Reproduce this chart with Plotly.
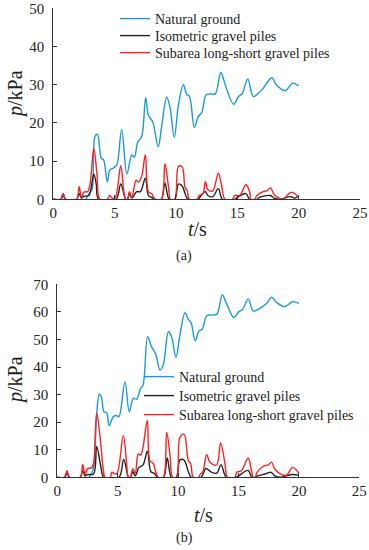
import plotly.graph_objects as go

# ---------------- data: (a) ----------------
series_names = ["Natural ground", "Isometric gravel piles", "Subarea long-short gravel piles"]

ta_nat = [0, 0.6, 0.8, 1.0, 2.6, 2.9, 3.15, 3.4, 3.6, 3.9, 4.1, 4.4, 4.62, 4.9, 5.17, 5.57, 6.0, 6.4, 6.6, 6.9,
          7.2, 7.53, 7.75, 8.1, 8.55, 8.83, 9.24, 9.5, 9.86, 10.2, 10.6, 10.87, 11.1, 11.5, 11.8, 12.1, 12.45,
          12.8, 13.2, 13.65, 13.9, 14.2, 14.7, 15.1, 15.4, 15.85, 16.3, 16.7, 17.1, 17.8, 18.2, 18.9, 19.5, 20.0]
pa_nat = [0, 0, 1.5, 0, 0, 1.5, 2.5, 16.5, 17, 10.8, 10.3, 4.6, 7.7, 8.2, 9, 18.3, 6.6, 11.6, 11, 15.1,
          16.4, 26.6, 22, 20.3, 13.8, 19, 26.7, 24.3, 16.2, 24.7, 30, 27.5, 26.9, 18.8, 21.6, 22.7, 27.3,
          27.6, 27.6, 33.2, 31.2, 28.2, 24.9, 26.9, 27.7, 31.5, 26.9, 27.7, 29, 31.8, 29.9, 28.4, 30.4, 29.7]

ta_iso = [0, 0.6, 0.8, 1.0, 1.9, 2.1, 2.3, 2.5, 2.9, 3.3, 3.5, 3.7, 5.1, 5.5, 5.9, 6.05, 6.2, 6.4, 6.8, 7.1,
          7.5, 7.75, 8.0, 8.3, 8.8, 9.1, 9.45, 9.9, 10.2, 10.5, 10.8, 11.0, 11.8, 12.0, 12.4, 12.6, 13.0,
          13.45, 13.8, 14.8, 15.0, 15.7, 16.0, 16.6, 16.8, 17.7, 18.0, 18.5, 19.3, 19.7, 20.0]
pa_iso = [0, 0, 1.2, 0, 0, 1.5, 0.3, 0.8, 1, 6.6, 4, 0, 0, 4, 0, 0, 1.5, 0.3, 2, 2,
          5.5, 1, 0.5, 0, 0, 4.3, 0, 0, 4, 3.5, 1, 0, 0, 0.8, 2, 1, 0.7,
          2.8, 0, 0, 0.5, 1.5, 0, 0, 0.5, 1, 0.3, 0, 0.7, 0.3, 1]

ta_sub = [0, 0.6, 0.8, 1.0, 1.9, 2.1, 2.3, 2.5, 2.8, 3.0, 3.3, 3.55, 3.8, 4.4, 4.6, 4.8, 5.05, 5.5, 5.75,
          5.9, 6.05, 6.2, 6.4, 6.75, 6.95, 7.2, 7.5, 7.75, 8.0, 8.3, 8.8, 9.1, 9.4, 9.55, 9.9, 10.2, 10.5,
          10.75, 10.9, 11.1, 11.7, 11.9, 12.2, 12.4, 12.6, 13.0, 13.45, 13.7, 14.0, 14.6, 14.8, 15.2, 15.7,
          16.0, 16.1, 16.4, 16.6, 17.1, 17.4, 17.7, 18.0, 18.3, 18.75, 19.2, 19.5, 20.0]
pa_sub = [0, 0, 1.5, 0, 0, 3.3, 0.5, 1.9, 2, 4, 13.4, 7, 0, 0, 1, 0.3, 0.5, 8.8, 2,
          0, 0, 2, 0.5, 5, 4.5, 6, 11.6, 2, 1.5, 0, 0, 9.3, 3, 0, 0, 8.6, 8.5,
          3, 2.5, 0, 0, 1, 1.5, 4.6, 2.5, 2.2, 6.8, 4, 0, 0, 1, 1, 3.8,
          2, 0, 0, 1, 2, 2.2, 3, 1.2, 0.5, 0, 1.5, 1.8, 0.5]

# ---------------- data: (b) ----------------
tb_nat = [0, 0.6, 0.8, 1.0, 2.6, 2.9, 3.05, 3.25, 3.48, 3.67, 3.86, 4.08, 4.3, 4.64, 4.9, 5.1, 5.6, 5.96,
          6.3, 6.57, 6.9, 7.1, 7.48, 7.8, 8.17, 8.5, 8.77, 9.2, 9.46, 9.82, 10.15, 10.57, 10.85, 11.07,
          11.42, 11.73, 12.0, 12.36, 12.78, 13.2, 13.66, 13.94, 14.24, 14.6, 15.04, 15.34, 15.81, 16.22,
          16.78, 17.33, 17.74, 18.16, 18.85, 19.48, 20.0]
pb_nat = [0, 0, 1.5, 0, 0, 2, 5, 22, 30.2, 28.7, 23.8, 23.5, 18.7, 22, 22.4, 22, 34.7, 23.8,
          28.7, 28.3, 32.3, 33.5, 51, 47.4, 44.4, 38.9, 40.7, 52.8, 51, 43.5, 51.6, 59.7, 57.3, 56.1,
          49.5, 53.1, 53.7, 58.6, 58.9, 59.1, 66.1, 63.7, 60.7, 57.9, 60.1, 60.9, 64.7, 60.3,
          61.3, 63.1, 65.3, 63.4, 61.9, 63.7, 63.1]

tb_iso = [0, 0.6, 0.8, 1.0, 1.9, 2.1, 2.3, 2.5, 3.0, 3.26, 3.6, 3.85, 5.1, 5.5, 5.9, 6.05, 6.25, 6.45, 6.75,
          7.1, 7.45, 7.75, 8.0, 8.3, 8.8, 9.1, 9.45, 9.85, 10.15, 10.5, 10.85, 11.1, 11.9, 12.3, 12.7, 13.2,
          13.55, 14.0, 14.8, 15.0, 15.8, 16.1, 16.4, 16.6, 17.2, 17.7, 18.0, 18.5, 19.4, 20.0]
pb_iso = [0, 0, 1.8, 0, 0, 2.5, 0.5, 1, 1.2, 11.2, 4, 0, 0, 6.5, 0, 0, 2, 0.5, 3.5,
          4.5, 9.5, 2, 1.5, 0, 0, 7, 0, 0, 6.3, 6.2, 2, 0, 0, 3.2, 2, 1.5,
          4.5, 0, 0, 0.5, 2.5, 0, 0, 0.5, 1.2, 1.8, 0.5, 0, 1, 0.8]

tb_sub = [0, 0.6, 0.8, 1.0, 1.9, 2.1, 2.3, 2.48, 2.84, 3.0, 3.26, 3.53, 3.8, 3.95, 4.4, 4.5, 4.9, 5.46, 5.74,
          5.88, 6.05, 6.24, 6.45, 6.7, 6.9, 7.1, 7.45, 7.67, 7.95, 8.08, 8.36, 8.77, 9.05, 9.33, 9.55, 9.88,
          10.15, 10.5, 10.85, 11.04, 11.26, 11.7, 11.81, 12.05, 12.36, 12.64, 13.19, 13.52, 13.88, 14.1,
          14.7, 14.85, 15.26, 15.8, 16.09, 16.22, 16.4, 16.5, 17.05, 17.47, 17.74, 18.0, 18.57, 18.98,
          19.48, 20.0]
pb_sub = [0, 0, 2.4, 0, 0, 4.7, 1, 3, 3.5, 5, 23.3, 15, 3, 0, 0, 1.8, 1.2, 15.2, 5,
          0, 0, 3, 1.5, 8.5, 8, 11, 20.7, 6, 5, 3, 0, 0, 16.3, 8, 0, 0,
          14.5, 15.6, 6, 5, 0, 0, 1, 2, 8.2, 5.5, 4.5, 12.5, 5, 0,
          0, 1.8, 2.5, 7, 2, 0, 0, 1.5, 4, 4.5, 5.5, 3, 1, 0.8,
          3.5, 1.5]

x_ticks = [0, 5, 10, 15, 20, 25]
ya_ticks = [0, 10, 20, 30, 40, 50]
yb_ticks = [0, 10, 20, 30, 40, 50, 60, 70]

colors = ["#1a9bd7", "#222222", "#ff2020"]
FONT = "Liberation Serif"
W, H = 369, 550


def px_x(v):
    return v / W


def px_y(v):
    return 1 - v / H


fig = go.Figure()

# each legend row is its own legend so that the row spacing matches the original
panels = [
    ([ta_nat, ta_iso, ta_sub], [pa_nat, pa_iso, pa_sub], "x", "y",
     ["legend", "legend2", "legend3"], 115, [19, 36, 53]),
    ([tb_nat, tb_iso, tb_sub], [pb_nat, pb_iso, pb_sub], "x2", "y2",
     ["legend4", "legend5", "legend6"], 139, [377, 396, 415]),
]
legend_layout = {}
for ts, ps, xa, ya, lgs, lgx, lgys in panels:
    for name, t, p, c, lg, lgy in zip(series_names, ts, ps, colors, lgs, lgys):
        fig.add_trace(go.Scatter(
            x=t, y=p, name=name, mode="lines", xaxis=xa, yaxis=ya, legend=lg, showlegend=True,
            line=dict(color=c, width=1.4, shape="spline", smoothing=1.0),
        ))
        legend_layout[lg] = dict(
            x=px_x(lgx), y=px_y(lgy), xanchor="left", yanchor="middle", visible=True,
            bgcolor="rgba(0,0,0,0)", borderwidth=0,
            font=dict(family=FONT, size=14, color="#222"),
        )

axis_common = dict(
    showgrid=False, zeroline=False, showline=True, linecolor="#333", linewidth=1.3,
    ticks="inside", ticklen=4, tickcolor="#333", tickwidth=1, automargin=False,
    tickfont=dict(family=FONT, size=15, color="#222"),
)

fig.update_layout(
    width=W, height=H,
    margin=dict(l=0, r=0, t=0, b=0, autoexpand=False),
    showlegend=True,
    paper_bgcolor="white", plot_bgcolor="white",
    font=dict(family=FONT, size=14, color="#222"),
    xaxis=dict(domain=[px_x(53.3), px_x(360)], range=[0, 25], tickvals=x_ticks, anchor="y", **axis_common),
    yaxis=dict(domain=[px_y(199.3), px_y(8.3)], range=[0, 50], tickvals=ya_ticks, anchor="x",
               ticklabelstandoff=5, **axis_common),
    xaxis2=dict(domain=[px_x(57.3), px_x(359.3)], range=[0, 25], tickvals=x_ticks, anchor="y2", **axis_common),
    yaxis2=dict(domain=[px_y(477.3), px_y(284.3)], range=[0, 70], tickvals=yb_ticks, anchor="x2",
                ticklabelstandoff=5, **axis_common),
    **legend_layout,
)

ann_font = dict(family=FONT, size=20, color="#222")
annotations = [
    dict(text="<i>p</i>/kPa", x=px_x(15), y=px_y(94), textangle=-90),
    dict(text="<i>t</i>/s", x=px_x(197), y=px_y(229)),
    dict(text="(a)", x=px_x(184), y=px_y(256), font=dict(family=FONT, size=14, color="#222")),
    dict(text="<i>p</i>/kPa", x=px_x(15), y=px_y(380), textangle=-90),
    dict(text="<i>t</i>/s", x=px_x(203), y=px_y(515)),
    dict(text="(b)", x=px_x(184), y=px_y(538), font=dict(family=FONT, size=14, color="#222")),
]
for a in annotations:
    a.setdefault("font", ann_font)
    fig.add_annotation(xref="paper", yref="paper", showarrow=False, xanchor="center", yanchor="middle", **a)

fig.write_html("out.html", config={"displayModeBar": False},
               post_script="document.body.style.margin='0';")
